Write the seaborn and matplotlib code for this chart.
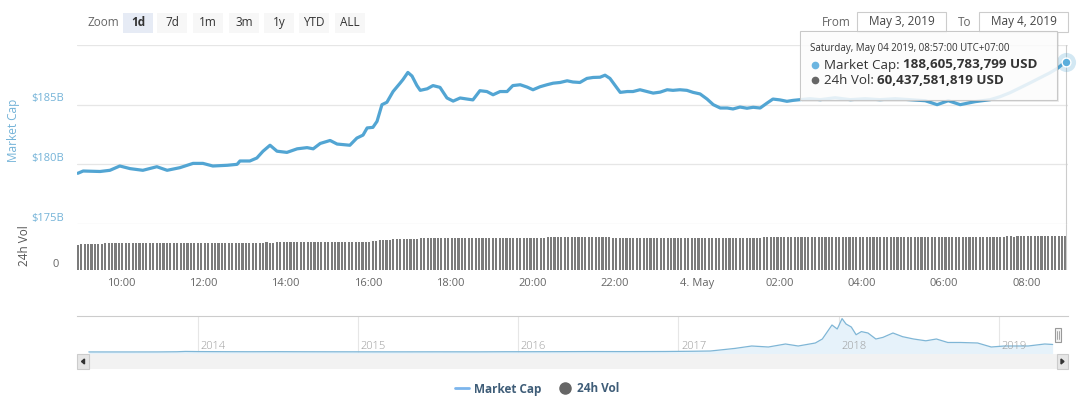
import pandas as pd
import matplotlib.pyplot as plt
import matplotlib.dates as mdates
import seaborn as sns
from matplotlib.patches import Rectangle, Polygon
from matplotlib.lines import Line2D
from matplotlib.text import Annotation

W, H = 1080, 399

# market cap, hours since May 3 00:00 (24 = "4. May"), values in $B
cap_hours = [8.95, 9.08, 9.49, 9.73, 9.97, 10.22, 10.53, 10.87, 11.12, 11.43, 11.75, 11.99,
             12.23, 12.58, 12.82, 12.89, 13.13, 13.30, 13.45, 13.62, 13.79, 14.03, 14.28, 14.52,
             14.67, 14.84, 15.08, 15.25, 15.56, 15.73, 15.88, 15.98, 16.12, 16.22, 16.34, 16.46,
             16.61, 16.78, 16.85, 16.97, 17.07, 17.19, 17.27, 17.44, 17.58, 17.75, 17.92, 18.07,
             18.24, 18.41, 18.55, 18.72, 18.89, 19.04, 19.21, 19.38, 19.52, 19.70, 19.87, 20.01,
             20.18, 20.35, 20.50, 20.67, 20.84, 20.98, 21.15, 21.32, 21.47, 21.64, 21.76, 21.88,
             22.05, 22.13, 22.30, 22.44, 22.61, 22.78, 22.93, 23.10, 23.27, 23.41, 23.58, 23.75,
             23.90, 24.07, 24.24, 24.39, 24.56, 24.73, 24.87, 25.04, 25.21, 25.36, 25.53, 25.70,
             25.84, 26.01, 26.18, 26.33, 26.50, 26.74, 26.99, 27.35, 27.72, 28.08, 28.44, 28.81,
             29.17, 29.54, 29.83, 30.10, 30.39, 30.75, 31.12, 31.36, 31.60, 31.85, 32.09, 32.33,
             32.57, 32.77, 32.95]
cap_values = [179.25, 179.44, 179.40, 179.50, 179.86, 179.64, 179.50, 179.80, 179.50, 179.72, 180.08, 180.08,
              179.86, 179.92, 180.00, 180.28, 180.28, 180.53, 181.10, 181.60, 181.10, 181.00, 181.30, 181.40,
              181.30, 181.75, 182.00, 181.70, 181.60, 182.20, 182.45, 183.05, 183.10, 183.60, 185.00, 185.20,
              186.10, 186.80, 187.10, 187.70, 187.40, 186.60, 186.20, 186.33, 186.60, 186.45, 185.56, 185.30,
              185.56, 185.47, 185.40, 186.17, 186.10, 185.83, 186.10, 186.10, 186.60, 186.67, 186.47, 186.25,
              186.50, 186.67, 186.80, 186.86, 187.00, 186.90, 186.86, 187.20, 187.28, 187.30, 187.47, 187.20,
              186.40, 186.03, 186.10, 186.10, 186.25, 186.10, 185.97, 186.05, 186.25, 186.20, 186.25, 186.20,
              186.03, 185.90, 185.47, 185.00, 184.72, 184.72, 184.64, 184.80, 184.70, 184.78, 184.72, 185.14,
              185.47, 185.40, 185.28, 185.36, 185.42, 185.50, 185.42, 185.58, 185.42, 185.50, 185.42, 185.50,
              185.42, 185.33, 185.00, 185.33, 185.00, 185.25, 185.42, 185.67, 186.00, 186.42, 186.83, 187.25,
              187.67, 188.08, 188.61]

# 24h volume ($B), one bar every 5 minutes from 08:57 May 3 to 08:57 May 4
vol_values = [
    45.4, 45.5, 45.5, 45.6, 45.5, 45.6, 45.6, 45.7, 48.2, 48.3, 48.3, 48.2,
    48.3, 48.4, 48.3, 48.3, 48.2, 48.3, 48.4, 48.4, 48.3, 48.3, 48.2, 48.3,
    48.3, 48.4, 48.5, 48.4, 48.3, 48.3, 48.2, 48.3, 48.3, 48.4, 48.4, 48.3,
    48.3, 48.2, 48.2, 48.3, 48.4, 48.4, 48.3, 48.3, 48.4, 48.5, 48.4, 48.4,
    48.5, 48.6, 48.5, 48.5, 48.6, 48.8, 49.0, 49.1, 49.0, 49.0, 49.1, 49.2,
    49.2, 49.1, 49.2, 49.3, 49.3, 49.2, 49.3, 49.4, 49.4, 49.3, 49.4, 49.5,
    49.6, 49.9, 50.0, 50.1, 50.0, 50.1, 50.2, 50.1, 50.2, 50.3, 50.3, 50.4,
    50.5, 50.8, 51.5, 52.2, 53.0, 53.4, 53.8, 54.2, 54.7, 55.1, 55.4, 55.5,
    55.6, 55.8, 55.9, 56.0, 56.2, 56.4, 56.6, 56.8, 57.0, 57.2, 57.3, 57.4,
    57.4, 57.5, 57.4, 57.5, 57.6, 57.5, 57.4, 57.4, 57.5, 57.6, 57.6, 57.5,
    57.5, 57.4, 57.4, 57.5, 57.6, 57.7, 57.6, 57.5, 57.5, 57.6, 57.7, 57.7,
    57.8, 57.8, 57.7, 57.8, 57.9, 58.0, 58.1, 58.2, 58.3, 58.4, 58.6, 58.8,
    58.9, 59.0, 59.1, 59.0, 59.1, 59.2, 59.1, 59.0, 59.1, 59.2, 59.0, 58.6,
    57.8, 57.5, 57.4, 57.5, 57.5, 57.4, 57.5, 57.6, 57.5, 57.4, 57.4, 57.5,
    57.6, 57.5, 57.5, 57.4, 57.5, 57.6, 57.6, 57.5, 57.4, 57.5, 57.5, 57.6,
    57.5, 57.4, 57.4, 57.5, 57.6, 57.5, 57.5, 57.4, 57.5, 57.6, 57.6, 57.5,
    57.5, 57.6, 57.7, 57.6, 57.6, 57.7, 57.8, 57.9, 58.0, 58.2, 58.5, 58.9,
    59.1, 59.2, 59.2, 59.1, 59.2, 59.3, 59.2, 59.2, 59.1, 59.2, 59.3, 59.3,
    59.2, 59.2, 59.1, 59.2, 59.2, 59.3, 59.2, 59.1, 59.1, 59.2, 59.3, 59.2,
    59.2, 59.1, 59.2, 59.2, 59.3, 59.2, 59.1, 59.0, 58.8, 58.7, 58.6, 58.6,
    58.5, 58.6, 58.7, 58.9, 59.0, 59.1, 59.2, 59.2, 59.1, 59.2, 59.3, 59.3,
    59.2, 59.3, 59.4, 59.3, 59.3, 59.4, 59.5, 59.4, 59.4, 59.5, 59.5, 59.6,
    59.6, 59.5, 59.6, 59.7, 59.7, 59.6, 59.7, 59.8, 59.8, 59.7, 59.8, 59.9,
    59.9, 59.8, 59.9, 60.0, 60.0, 59.9, 60.0, 60.1, 60.1, 60.2, 60.3, 60.3,
    60.44]

time_ticks = [10, 12, 14, 16, 18, 20, 22, 24, 26, 28, 30, 32]
time_labels = ["10:00", "12:00", "14:00", "16:00", "18:00", "20:00",
               "22:00", "4. May", "02:00", "04:00", "06:00", "08:00"]
cap_ticks = [175, 180, 185]
cap_tick_labels = ["$175B", "$180B", "$185B"]

# navigator: whole history of market cap ($B)
nav_dates = ["2013-04-28", "2013-06-01", "2013-08-01", "2013-10-01", "2013-11-15", "2013-12-04",
             "2014-01-01", "2014-03-01", "2014-05-01", "2014-07-01", "2014-09-01", "2014-11-01",
             "2015-01-15", "2015-04-01", "2015-07-01", "2015-10-01", "2015-12-01",
             "2016-02-01", "2016-04-01", "2016-06-15", "2016-09-01", "2016-12-01",
             "2017-02-01", "2017-03-15", "2017-05-10", "2017-06-17", "2017-07-25", "2017-09-02",
             "2017-10-01", "2017-11-09", "2017-11-25", "2017-12-17", "2017-12-29", "2018-01-09",
             "2018-01-18", "2018-01-30", "2018-02-10", "2018-02-22", "2018-03-09", "2018-03-27",
             "2018-04-12", "2018-05-05", "2018-05-27", "2018-06-21", "2018-07-19", "2018-08-12",
             "2018-09-07", "2018-10-06", "2018-11-14", "2018-12-15", "2019-01-14", "2019-03-09",
             "2019-04-16", "2019-05-04"]
nav_values = [1.6, 1.3, 1.3, 2.0, 6.0, 14.0,
              10.5, 8.0, 6.5, 8.0, 6.0, 5.0,
              4.0, 3.6, 4.4, 3.8, 6.5,
              6.8, 8.3, 11.0, 10.0, 12.5,
              18.5, 25.0, 90.0, 150.0, 125.0, 200.0,
              150.0, 225.0, 325.0, 675.0, 575.0, 835.0,
              700.0, 625.0, 432.0, 510.0, 475.0, 325.0,
              365.0, 475.0, 383.0, 325.0, 280.0, 325.0,
              238.0, 238.0, 225.0, 125.0, 150.0, 150.0,
              200.0, 188.6]
nav_years = [2014, 2015, 2016, 2017, 2018, 2019]

zoom_buttons = ["1d", "7d", "1m", "3m", "1y", "YTD", "ALL"]
zoom_lefts = [123, 157, 193, 229, 264, 299, 335]

LINE = "#52a5d3"
BLUE_TEXT = "#74b3d8"

sns.set_style("white")
plt.rcParams['font.family'] = ['Open Sans', 'DejaVu Sans']

fig = plt.figure(figsize=(W / 100, H / 100), dpi=100)


def px(x, y):
    return x / W, 1 - y / H


def box(x0, y0, x1, y1, **kw):
    fig.add_artist(Rectangle(px(x0, y1), (x1 - x0) / W, (y1 - y0) / H,
                             transform=fig.transFigure, **kw))


def label(x, y, s, **kw):
    return fig.text(*px(x, y), s, **kw)


# --- main pane: market cap line
ax = fig.add_axes([77 / W, 1 - 224 / H, 991 / W, 179 / H])
cap = pd.DataFrame({"hour": cap_hours, "cap": cap_values})
sns.lineplot(data=cap, x="hour", y="cap", ax=ax, color=LINE, lw=2.3,
             solid_joinstyle="round", solid_capstyle="round")
ax.set_xlim(8.93, 33.01)
ax.set_ylim(175, 190)
ax.set_yticks([175, 180, 185, 190])
ax.yaxis.grid(True, color="#e6e6e6", lw=0.9)
ax.tick_params(left=False, labelleft=False, bottom=False, labelbottom=False)
ax.set_xlabel("")
ax.set_ylabel("")
for s in ax.spines.values():
    s.set_visible(False)
for v, lab in zip(cap_ticks, cap_tick_labels):
    ax.annotate(lab, xy=(0, v), xycoords=ax.get_yaxis_transform(), xytext=(-9.4, 4.3),
                textcoords="offset points", ha="right", va="center", color=BLUE_TEXT,
                fontsize=8, annotation_clip=False)
ax.axvline(cap_hours[-1], color="#cccccc", lw=0.8)
ax.scatter([cap_hours[-1]], [cap_values[-1]], s=190, color=LINE, alpha=0.25, lw=0,
           clip_on=False, zorder=4)
ax.scatter([cap_hours[-1]], [cap_values[-1]], s=40, color="#5aaedc", edgecolor="white",
           lw=1, clip_on=False, zorder=5)

# --- volume pane
axv = fig.add_axes([77 / W, 1 - 270 / H, 991 / W, 46 / H], sharex=ax)
vol_time = pd.date_range("2019-05-03 08:57", periods=len(vol_values), freq="5min")
vol_hours = (vol_time - pd.Timestamp("2019-05-03")) / pd.Timedelta(hours=1)
axv.bar(vol_hours, vol_values, width=0.052, color="#7b7b7b", lw=0)
axv.axvline(cap_hours[-1], color="#cccccc", lw=0.8)
axv.set_ylim(0, 82)
axv.set_yticks([])
for s in axv.spines.values():
    s.set_visible(False)
axv.set_xticks(time_ticks)
axv.set_xticklabels(time_labels)
axv.tick_params(axis="x", length=3.6, width=0.8, color="#ccd6eb", labelcolor="#666666",
                labelsize=8, pad=2)
axv.set_xlim(8.93, 33.01)
axv.annotate("0", xy=(0, 0), xycoords=axv.get_yaxis_transform(), xytext=(-13, 4.3),
             textcoords="offset points", ha="right", va="center", color="#666666",
             fontsize=8, annotation_clip=False)

label(14, 130, "Market Cap", rotation=90, ha="center", va="center", color=BLUE_TEXT, fontsize=8.5)
label(25, 246, "24h Vol", rotation=90, ha="center", va="center", color="#555555", fontsize=8.5)

# --- navigator
axn = fig.add_axes([77 / W, 1 - 354 / H, 991 / W, 38 / H])
nav = pd.DataFrame({"date": pd.to_datetime(nav_dates), "cap": nav_values})
for y in nav_years:
    xd = mdates.date2num(pd.Timestamp(f"{y}-01-01"))
    axn.axvline(xd, color="#e6e6e6", lw=0.8, zorder=0.5)
    axn.annotate(str(y), xy=(xd, 0), xycoords=axn.get_xaxis_transform(), xytext=(2, 1.5),
                 textcoords="offset points", ha="left", va="bottom", color="#9a9a9a",
                 fontsize=8, fontweight="light")
nav_x = mdates.date2num(nav["date"])
axn.fill_between(nav_x, nav["cap"], -50, color="#e6f2fa", lw=0, zorder=1)
sns.lineplot(x=nav_x, y=nav["cap"], ax=axn, color="#7fb6d6", lw=0.9, zorder=2)
axn.set_xlim(mdates.date2num(pd.Timestamp("2013-04-01")), mdates.date2num(pd.Timestamp("2019-06-08")))
axn.set_ylim(-50, 900)
axn.set_xticks([])
axn.set_yticks([])
axn.set_xlabel("")
axn.set_ylabel("")
for k, s in axn.spines.items():
    s.set_visible(k == "top")
axn.spines["top"].set_color("#cccccc")
axn.spines["top"].set_linewidth(0.8)

# navigator handle
box(1055, 328, 1061, 342, facecolor="#f2f2f2", edgecolor="#999999", lw=0.8, zorder=3)
for hx in (1057.3, 1058.7):
    fig.add_artist(Line2D([hx / W, hx / W], [1 - 331 / H, 1 - 339 / H], color="#999999",
                          lw=0.6, transform=fig.transFigure, zorder=4))

# scrollbar
box(77, 354, 1068, 369, facecolor="#f2f2f2", lw=0)
box(77, 354, 89, 369, facecolor="#e6e6e6", edgecolor="#cccccc", lw=0.8)
box(1057, 354, 1068, 369, facecolor="#e6e6e6", edgecolor="#cccccc", lw=0.8)
fig.add_artist(Polygon([px(81.5, 361.5), px(84.5, 359), px(84.5, 364)], closed=True,
                       color="#333333", transform=fig.transFigure))
fig.add_artist(Polygon([px(1064, 361.5), px(1061, 359), px(1061, 364)], closed=True,
                       color="#333333", transform=fig.transFigure))

# --- range selector
label(87, 22, "Zoom", color="#666666", fontsize=8.5, va="center")
for name, x0 in zip(zoom_buttons, zoom_lefts):
    sel = name == "1d"
    box(x0, 13, x0 + 30, 33, facecolor="#e6ebf5" if sel else "#f7f7f7", lw=0)
    label(x0 + 15, 22.5, name, ha="center", va="center", fontsize=8.5, color="#333333",
          fontweight="bold" if sel else "normal")

label(836, 22, "From", ha="center", va="center", color="#666666", fontsize=8.5)
box(857, 12, 946, 32, facecolor="white", edgecolor="#cccccc", lw=0.8)
label(901.5, 22, "May 3, 2019", ha="center", va="center", color="#444444", fontsize=8.5)
label(965, 22, "To", ha="center", va="center", color="#666666", fontsize=8.5)
box(979, 12, 1068, 32, facecolor="white", edgecolor="#cccccc", lw=0.8)
label(1023.5, 22, "May 4, 2019", ha="center", va="center", color="#444444", fontsize=8.5)

# --- tooltip
box(802, 33, 1059, 102, facecolor=(0, 0, 0, 0.07), lw=0, zorder=5)
box(800, 31, 1057, 100, facecolor=(1, 1, 1, 0.85), edgecolor="#c8c8c8", lw=0.8, zorder=6)
label(810, 49, "Saturday, May 04 2019, 08:57:00 UTC+07:00", fontsize=7, color="#333333",
      va="center", zorder=7)
tips = [("Market Cap: ", "188,605,783,799 USD", "#6ab4e0", 65),
        ("24h Vol: ", "60,437,581,819 USD", "#666666", 80)]
for name, val, dot, ty in tips:
    fig.add_artist(Line2D([815 / W], [1 - ty / H], marker="o", ms=4.5, color=dot,
                          transform=fig.transFigure, zorder=7))
    t1 = label(824, ty, name, fontsize=9.6, color="#333333", va="center", zorder=7)
    fig.add_artist(Annotation(val, xy=(1, 0.5), xycoords=t1, ha="left", va="center",
                              fontsize=9.6, fontweight="bold", color="#333333", zorder=7))

# --- legend
handles = [Line2D([], [], color="#7cb5ec", lw=2),
           Line2D([], [], marker="o", ls="", color="#666666", markersize=8)]
fig.legend(handles, ["Market Cap", "24h Vol"], loc="center", bbox_to_anchor=px(537, 389),
           ncol=2, frameon=False, prop={"weight": "bold", "size": 8.5}, labelcolor="#3f5d78",
           handlelength=1.2, columnspacing=1.4, handletextpad=0.4)

fig.savefig("out.png", dpi=100)
